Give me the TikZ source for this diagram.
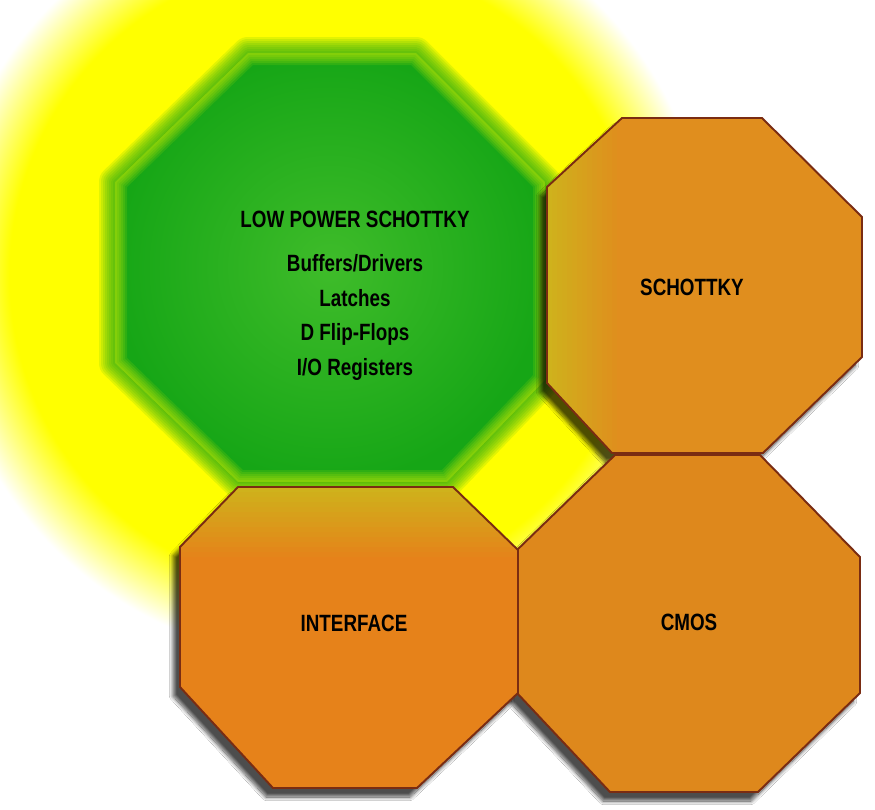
\documentclass[tikz,border=0pt]{standalone}
\usepackage{fontspec}
\setmainfont[FakeStretch=0.8]{Liberation Sans}
\usepackage{tikz}
\usetikzlibrary{shadows.blur}
\definecolor{GlowYellow}{HTML}{FFFF00}
\definecolor{ChipGreen}{HTML}{16A616}
\definecolor{ChipGreenLight}{HTML}{3FBC2A}
\definecolor{SchottkyOrange}{HTML}{E08E1E}
\definecolor{IfaceOrange}{HTML}{E6821A}
\definecolor{CmosOrange}{HTML}{DE881C}
\definecolor{ChipTint}{HTML}{CFB21C}
\definecolor{ChipEdge}{HTML}{7A2C12}
\pgfdeclareradialshading{ocglow}{\pgfpoint{0bp}{0bp}}{color(0bp)=(GlowYellow); color(20.5bp)=(GlowYellow); color(25bp)=(white); color(50bp)=(white)}
\tikzset{
  ocface/.style={
    draw=ChipEdge,
    line width=1.1pt,
    line join=round,
    blur shadow={shadow xshift=-1.4mm, shadow yshift=-1.8mm, shadow blur steps=12, shadow opacity=70}
  },
  ocsoft/.style={draw=ChipGreen, line join=round, opacity=0.12},
  ocfade/.style={draw=GlowYellow, line join=round, opacity=0.1},
  oclabel/.style={font=\bfseries\fontsize{13.4}{19.8}\selectfont, align=center, inner sep=0pt}
}

\begin{document}
\begin{tikzpicture}[x=0.02cm, y=-0.02cm]
  \useasboundingbox (0,0) rectangle (875,809);
  \clip (0,0) rectangle (875,809);
  \fill[white] (0,0) rectangle (875,809);
  % yellow glow behind the low power part
  \shade[shading=ocglow] (325,275) circle (385);
  % low power schottky, soft edged
  \foreach \w in {4,8,...,32}
    \draw[ocsoft, line width=\w*0.02cm] (248,53) -- (416,53) -- (545,182) -- (545,380)
      -- (447,482) -- (238,482) -- (115,363) -- (115,182) -- cycle;
  \shade[inner color=ChipGreenLight, outer color=ChipGreen] (248,53) -- (416,53) -- (545,182)
    -- (545,380) -- (447,482) -- (238,482) -- (115,363) -- (115,182) -- cycle;
  \begin{scope}
    \clip (248,53) -- (416,53) -- (545,182) -- (545,380) -- (447,482) -- (238,482)
      -- (115,363) -- (115,182) -- cycle;
    \foreach \w in {4,8,...,24}
      \draw[ocfade, line width=\w*0.02cm] (248,53) -- (416,53) -- (545,182) -- (545,380)
        -- (447,482) -- (238,482) -- (115,363) -- (115,182) -- cycle;
  \end{scope}
  % the three orange families
  \filldraw[ocface, fill=SchottkyOrange,
    path picture={\foreach \i in {0,...,13}
      \fill[ChipTint, opacity=1-\i/14] (547+\i*5,118) rectangle (552+\i*5,453);}]
    (622,118) -- (762,118) -- (862,217) -- (862,357) -- (763,453) -- (612,453) -- (547,383)
    -- (547,187) -- cycle;
  \filldraw[ocface, fill=CmosOrange]
    (615,455) -- (760,455) -- (860,557) -- (860,693) -- (758,792) -- (610,792) -- (517,693)
    -- (517,550) -- cycle;
  \filldraw[ocface, fill=IfaceOrange,
    path picture={\foreach \i in {0,...,13}
      \fill[ChipTint, opacity=1-\i/14] (180,487+\i*5) rectangle (518,492+\i*5);}]
    (238,487) -- (453,487) -- (518,550) -- (518,693) -- (417,788) -- (273,788) -- (180,687)
    -- (180,547) -- cycle;
  % labels
  \node[oclabel] (lps) at (355,296) {LOW POWER SCHOTTKY\\[5pt]Buffers/Drivers\\Latches\\D Flip-Flops\\I/O Registers};
  \node[oclabel] (schottky) at (692,287) {SCHOTTKY};
  \node[oclabel] (iface) at (354,623) {INTERFACE};
  \node[oclabel] (cmos) at (689,622) {CMOS};
\end{tikzpicture}
\end{document}
